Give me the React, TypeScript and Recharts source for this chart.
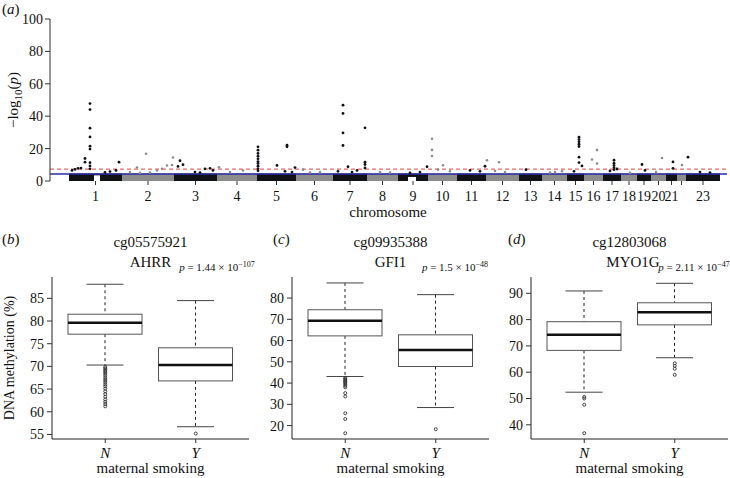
import React from "react"
import {
  ScatterChart,
  ComposedChart,
  Scatter,
  Bar,
  XAxis,
  YAxis,
  ReferenceArea,
  ReferenceLine,
} from "recharts"

const FONT = "'Liberation Serif', 'DejaVu Serif', 'Noto Serif', 'Times New Roman', Times, serif"
const INK = "#111"
const DARK = "#111118"
const GRAY = "#8c8c8c"
const FRAME = "#222"

// ---- (a) genome-wide scan ----
const chromLabels = ["1", "2", "3", "4", "5", "6", "7", "8", "9", "10", "11", "12",
  "13", "14", "15", "16", "17", "18", "19", "20", "21", "", "23"]
// probe span of each chromosome, in genome units
const chromLength = [53, 52, 43, 40, 39, 37, 34, 31, 30, 29, 29, 33, 23, 25, 17, 19, 18, 16, 14, 15, 11, 9, 34]
const genomeOffset = 19
const genomeSpan = 677
const bulkTop = 4.6 // the dense mass of probes below this
const suggestiveLine = 4.3
const genomeWideLine = 7.3
const logPTicks = [0, 20, 40, 60, 80, 100]
// probe-free stretches (centromeres) inside the dense band
const gapStart = [44, 358]
const gapEnd = [50, 366]
const gapTop = [3.5, 2.5]

// probes standing out above the dense band
const hitPos = [
  40, 40, 40, 40, 40, 40, 40, 40, 40, 35, 35, 22, 25, 28, 31, 69, 66, 55, 60,
  96, 87, 107, 117, 123, 122, 80, 100, 112, 90,
  130, 128, 133, 155, 160, 163, 145, 150,
  169, 193, 180,
  208, 208, 208, 208, 208, 208, 208, 208, 208, 208, 227, 237, 237, 235, 242, 245,
  253, 270, 260,
  293, 293, 293, 293, 298, 315, 315, 315, 315, 307, 288, 302,
  330, 340,
  377, 360, 370,
  382, 382, 382, 393, 388, 400,
  420, 435, 430,
  437, 449, 455, 445,
  476,
  505, 512, 500,
  529, 529, 529, 529, 529, 529, 529, 532, 524,
  547, 542, 547,
  564, 564, 564, 564, 564, 567, 560,
  580,
  592, 595,
  612, 606,
  623, 623,
  632,
  638, 650, 660,
]
const hitLogP = [
  47.8, 44.1, 32.6, 27.2, 21.5, 19.7, 11.3, 9.3, 7.5, 13.9, 11.6, 6.5, 7.2, 7.8, 8.0, 11.6, 6.5, 5.3, 5.8,
  16.8, 8.3, 6.5, 9.6, 14.5, 9.9, 5.5, 5.2, 7.5, 5.0,
  12.5, 9.0, 10.1, 7.5, 7.8, 6.5, 5.5, 5.2,
  8.5, 6.5, 5.5,
  21.1, 19.0, 17.0, 15.3, 13.7, 12.0, 10.8, 9.1, 7.5, 6.3, 9.6, 22.1, 21.1, 6.0, 5.5, 8.3,
  7.0, 5.5, 5.2,
  46.8, 41.7, 29.7, 21.9, 8.8, 32.8, 11.6, 10.2, 8.1, 6.5, 6.0, 5.5,
  5.5, 5.2,
  8.8, 5.0, 5.5,
  26.1, 19.2, 15.4, 9.7, 7.0, 6.0,
  6.5, 9.1, 6.0,
  12.8, 11.6, 5.5, 6.2,
  7.0,
  5.5, 6.0, 5.2,
  27.0, 25.6, 24.2, 22.7, 21.3, 14.7, 11.4, 9.3, 6.0,
  19.2, 13.3, 10.8,
  12.8, 11.0, 9.6, 8.2, 7.0, 7.4, 6.2,
  5.0,
  10.2, 6.5,
  14.2, 5.5,
  11.8, 7.8,
  9.8,
  14.7, 5.5, 5.2,
]

// ---- (b)-(d) methylation by maternal smoking ----
const groups = ["N", "Y"]
// [lower whisker, q1, median, q3, upper whisker]
const ahrrN = [70.3, 77.1, 79.6, 81.5, 88.1]
const ahrrY = [56.7, 66.8, 70.3, 74.1, 84.5]
const ahrrOutN = [69.9, 69.6, 69.3, 69.0, 68.7, 68.4, 68.0, 67.6, 67.2, 66.8, 66.4, 66.0, 65.6, 65.1, 64.5, 63.9, 63.3, 62.7, 62.2, 61.7, 61.2]
const ahrrOutY = [55.2]
const ahrrTicks = [55, 60, 65, 70, 75, 80, 85]

const gfi1N = [43.1, 62.2, 69.3, 74.5, 87.1]
const gfi1Y = [28.5, 47.8, 55.6, 62.7, 81.6]
const gfi1OutN = [42.5, 42.0, 41.5, 41.0, 40.5, 40.0, 39.4, 38.7, 38.0, 35.3, 33.7, 25.8, 23.1, 16.4]
const gfi1OutY = [18.3]
const gfi1Ticks = [20, 30, 40, 50, 60, 70, 80]

const myo1gN = [52.4, 68.3, 74.2, 79.2, 90.9]
const myo1gY = [65.5, 78.0, 82.8, 86.4, 93.8]
const myo1gOutN = [50.6, 50.0, 47.6, 36.8]
const myo1gOutY = [63.4, 62.4, 61.3, 59.0]
const myo1gTicks = [40, 50, 60, 70, 80, 90]

const chromStart = chromLength.map(
  (_, i) => genomeOffset + chromLength.slice(0, i).reduce((a, b) => a + b, 0)
)
const chromCenter = chromStart.map((s, i) => s + chromLength[i] / 2)

function chromIndexOf(pos: number) {
  let c = 0
  chromStart.forEach((s, i) => {
    if (pos >= s) c = i
  })
  return c
}

const hits = hitPos.map((pos, i) => ({ pos, logp: hitLogP[i], chr: chromIndexOf(pos) }))
const oddHits = hits.filter((h) => h.chr % 2 === 0) // index 0 is chromosome 1
const evenHits = hits.filter((h) => h.chr % 2 === 1)

function Manhattan() {
  return (
    <ScatterChart width={730} height={230} margin={{ top: 19, right: 3, bottom: 19, left: 0 }}>
      <XAxis
        type="number"
        dataKey="pos"
        domain={[0, genomeSpan]}
        ticks={chromCenter}
        interval={0}
        tickFormatter={(_v: number, i: number) => chromLabels[i]}
        axisLine={false}
        tickLine={{ stroke: "#333" }}
        tickSize={4}
        tickMargin={6}
        height={30}
        tick={{ fontSize: 14, fill: INK }}
      />
      <YAxis
        type="number"
        dataKey="logp"
        domain={[0, 100]}
        ticks={logPTicks}
        width={50}
        tickSize={5}
        tickMargin={2}
        axisLine={{ stroke: "#333" }}
        tickLine={{ stroke: "#333" }}
        tick={{ fontSize: 14, fill: INK }}
      />
      {chromStart.map((s, i) => (
        <ReferenceArea
          key={`c${i}`}
          x1={s}
          x2={s + chromLength[i]}
          y1={0}
          y2={bulkTop}
          fill={i % 2 === 0 ? DARK : GRAY}
          fillOpacity={1}
          strokeWidth={0}
        />
      ))}
      {gapStart.map((s, i) => (
        <ReferenceArea key={`g${i}`} x1={s} x2={gapEnd[i]} y1={0} y2={gapTop[i]} fill="#fff" fillOpacity={1} strokeWidth={0} />
      ))}
      <ReferenceLine y={genomeWideLine} stroke="#e26a6a" strokeDasharray="4 3" strokeWidth={1.2} />
      <ReferenceLine y={suggestiveLine} stroke="#2b2ba6" strokeWidth={1.5} />
      <Scatter
        data={evenHits}
        isAnimationActive={false}
        shape={(p: any) => <circle cx={p.cx} cy={p.cy} r={1.3} fill={GRAY} />}
      />
      <Scatter
        data={oddHits}
        isAnimationActive={false}
        shape={(p: any) => <circle cx={p.cx} cy={p.cy} r={1.4} fill={DARK} />}
      />
    </ScatterChart>
  )
}

function BoxShape(props: any) {
  const { x, y, width, height, payload } = props
  const [lo, q1, med, q3, hi] = payload.stats
  const top = Math.min(y, y + height)
  const bottom = Math.max(y, y + height)
  const py = (v: number) => bottom - ((v - lo) / (hi - lo)) * (bottom - top)
  const cx = x + width / 2
  const cap = width / 4
  return (
    <g>
      <line x1={cx} x2={cx} y1={py(hi)} y2={py(q3)} stroke="#222" strokeDasharray="3 3" />
      <line x1={cx} x2={cx} y1={py(q1)} y2={py(lo)} stroke="#222" strokeDasharray="3 3" />
      <line x1={cx - cap} x2={cx + cap} y1={py(hi)} y2={py(hi)} stroke="#444" />
      <line x1={cx - cap} x2={cx + cap} y1={py(lo)} y2={py(lo)} stroke="#444" />
      <rect x={x} y={py(q3)} width={width} height={py(q1) - py(q3)} fill="#fff" stroke="#555" />
      <line x1={x} x2={x + width} y1={py(med)} y2={py(med)} stroke="#111" strokeWidth={2.5} />
    </g>
  )
}

function OutlierShape(p: any) {
  return <circle cx={p.cx} cy={p.cy} r={1.5} fill="none" stroke="#333" strokeWidth={0.9} />
}

interface PanelProps {
  width: number
  right: number
  domain: [number, number]
  ticks: number[]
  stats: number[][]
  outliers: number[][]
}

function BoxPanel({ width, right, domain, ticks, stats, outliers }: PanelProps) {
  const data = groups.map((g, i) => ({
    group: g,
    stats: stats[i],
    range: [stats[i][0], stats[i][4]],
  }))
  const outlierData = groups.flatMap((g, i) => outliers[i].map((value) => ({ group: g, value })))
  return (
    <ComposedChart width={width} height={248} data={data} margin={{ top: 47, right, bottom: 9, left: 0 }}>
      <XAxis
        dataKey="group"
        type="category"
        allowDuplicatedCategory={false}
        padding={{ left: 8, right: 8 }}
        height={30}
        tickSize={4}
        tickMargin={4}
        axisLine={{ stroke: FRAME }}
        tickLine={{ stroke: "#333" }}
        tick={{ fontSize: 15, fontStyle: "italic", fill: INK }}
      />
      <XAxis
        xAxisId="frame"
        orientation="top"
        type="number"
        domain={[0, 1]}
        height={0}
        tick={false}
        tickLine={false}
        axisLine={{ stroke: FRAME }}
      />
      <YAxis
        type="number"
        domain={domain}
        ticks={ticks}
        allowDataOverflow
        width={52}
        tickSize={5}
        tickMargin={3}
        axisLine={{ stroke: FRAME }}
        tickLine={{ stroke: "#333" }}
        tick={{ fontSize: 14, fill: INK }}
      />
      <YAxis
        yAxisId="frame"
        orientation="right"
        type="number"
        domain={[0, 1]}
        width={0}
        tick={false}
        tickLine={false}
        axisLine={{ stroke: FRAME }}
      />
      <Bar dataKey="range" barSize={74} shape={BoxShape} isAnimationActive={false} />
      <Scatter data={outlierData} dataKey="value" shape={OutlierShape} isAnimationActive={false} />
    </ComposedChart>
  )
}

function PValue({ x, mantissa, exponent }: { x: number; mantissa: string; exponent: string }) {
  return (
    <text x={x} y={271} textAnchor="middle" fontSize={11}>
      <tspan fontStyle="italic">p</tspan> = {mantissa} × 10
      <tspan dy={-4} fontSize={8}>{exponent}</tspan>
    </text>
  )
}

function Annotations() {
  return (
    <svg
      width={730}
      height={478}
      style={{ position: "absolute", left: 0, top: 0, pointerEvents: "none", fontFamily: FONT }}
      fill={INK}
    >
      <text x={2} y={14} fontSize={15}>
        (<tspan fontStyle="italic">a</tspan>)
      </text>
      <text x={18} y={100} fontSize={15} textAnchor="middle" transform="rotate(-90 18 100)">
        −log<tspan dy={4} fontSize={11}>10</tspan>
        <tspan dy={-4}>(</tspan>
        <tspan fontStyle="italic">p</tspan>)
      </text>
      <text x={388} y={217} fontSize={15} textAnchor="middle">chromosome</text>

      <text x={2} y={244} fontSize={15}>(<tspan fontStyle="italic">b</tspan>)</text>
      <text x={150.5} y={247} fontSize={15} textAnchor="middle">cg05575921</text>
      <text x={150.5} y={267} fontSize={15} textAnchor="middle">AHRR</text>
      <PValue x={217} mantissa="1.44" exponent="−107" />
      <text x={14} y={358} fontSize={14} textAnchor="middle" transform="rotate(-90 14 358)">
        DNA methylation (%)
      </text>
      <text x={150.5} y={473} fontSize={15} textAnchor="middle">maternal smoking</text>

      <text x={273} y={244} fontSize={15}>(<tspan fontStyle="italic">c</tspan>)</text>
      <text x={390.5} y={247} fontSize={15} textAnchor="middle">cg09935388</text>
      <text x={390.5} y={267} fontSize={15} textAnchor="middle">GFI1</text>
      <PValue x={455} mantissa="1.5" exponent="−48" />
      <text x={390.5} y={473} fontSize={15} textAnchor="middle">maternal smoking</text>

      <text x={508} y={244} fontSize={15}>(<tspan fontStyle="italic">d</tspan>)</text>
      <text x={629.5} y={247} fontSize={15} textAnchor="middle">cg12803068</text>
      <text x={633} y={267} fontSize={15} textAnchor="middle">MYO1G</text>
      <PValue x={694} mantissa="2.11" exponent="−47" />
      <text x={629.5} y={473} fontSize={15} textAnchor="middle">maternal smoking</text>
    </svg>
  )
}

export default function App() {
  return (
    <div
      style={{
        position: "absolute",
        left: 0,
        top: 0,
        width: 730,
        height: 478,
        background: "#fff",
        fontFamily: FONT,
        overflow: "hidden",
      }}
    >
      <div style={{ position: "absolute", left: 0, top: 0 }}>
        <Manhattan />
      </div>
      <div style={{ position: "absolute", left: 0, top: 230 }}>
        <BoxPanel width={255} right={6} domain={[54.0, 89.7]} ticks={ahrrTicks} stats={[ahrrN, ahrrY]} outliers={[ahrrOutN, ahrrOutY]} />
      </div>
      <div style={{ position: "absolute", left: 240, top: 230 }}>
        <BoxPanel width={255} right={6} domain={[13.7, 89.9]} ticks={gfi1Ticks} stats={[gfi1N, gfi1Y]} outliers={[gfi1OutN, gfi1OutY]} />
      </div>
      <div style={{ position: "absolute", left: 479, top: 230 }}>
        <BoxPanel width={251} right={2} domain={[34.6, 96.2]} ticks={myo1gTicks} stats={[myo1gN, myo1gY]} outliers={[myo1gOutN, myo1gOutY]} />
      </div>
      <Annotations />
    </div>
  )
}
